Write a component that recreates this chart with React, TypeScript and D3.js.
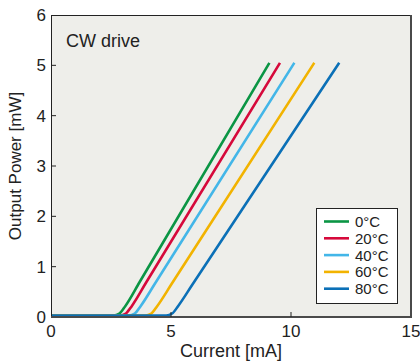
import React from "react";
import * as d3 from "d3";

const seriesLabels = ["0°C", "20°C", "40°C", "60°C", "80°C"];
const seriesColors = ["#0a9544", "#d6093b", "#43b6e8", "#f2b300", "#0b70b7"];
const s0: [number, number][] = [[0, 0.03], [2.6, 0.03], [2.85, 0.07], [3.1, 0.22], [3.7, 0.7], [9.1, 5.05]];
const s20: [number, number][] = [[0, 0.03], [2.87, 0.03], [3.12, 0.07], [3.37, 0.22], [3.97, 0.69], [9.54, 5.05]];
const s40: [number, number][] = [[0, 0.03], [3.24, 0.03], [3.49, 0.07], [3.74, 0.22], [4.34, 0.67], [10.14, 5.05]];
const s60: [number, number][] = [[0, 0.03], [3.93, 0.03], [4.18, 0.07], [4.43, 0.22], [5.03, 0.66], [10.97, 5.05]];
const s80: [number, number][] = [[0, 0.03], [4.8, 0.03], [5.05, 0.07], [5.3, 0.22], [5.9, 0.65], [12.01, 5.05]];
const seriesData = [s0, s20, s40, s60, s80];
const xTicks = [0, 5, 10, 15];
const yTicks = [0, 1, 2, 3, 4, 5, 6];

export default function App() {
  const W = 420, H = 362;
  const left = 51, right = 411, top = 15, bottom = 317;
  const x = d3.scaleLinear().domain([0, 15]).range([left, right]);
  const y = d3.scaleLinear().domain([0, 6]).range([bottom, top]);
  const line = d3.line<[number, number]>().x(d => x(d[0])).y(d => y(d[1])).curve(d3.curveMonotoneX);
  const font = "'Liberation Sans', Arial, sans-serif";
  const lg = { x: 316, y: 208, w: 81, h: 95, row0: 221.5, step: 16.8 };
  return (
    <svg width={W} height={H} style={{ position: "absolute", left: 0, top: 0 }} fontFamily={font}>
      <rect x={0} y={0} width={W} height={H} fill="#fff" />
      <rect x={left} y={top} width={right - left} height={bottom - top} fill="#eeeeea" />
      <defs>
        <clipPath id="pc">
          <rect x={left} y={top} width={right - left} height={bottom - top} />
        </clipPath>
      </defs>
      <g clipPath="url(#pc)">
        {seriesData.map((d, i) => (
          <path key={i} d={line(d) || ""} fill="none" stroke={seriesColors[i]} strokeWidth={2.6} />
        ))}
      </g>
      <line x1={left} y1={top + 0.5} x2={right} y2={top + 0.5} stroke="#222" strokeWidth={1} />
      <line x1={left + 0.5} y1={top} x2={left + 0.5} y2={bottom} stroke="#222" strokeWidth={1} />
      <line x1={right} y1={top} x2={right} y2={bottom + 1} stroke="#4a4a4a" strokeWidth={2} />
      <line x1={left} y1={bottom} x2={right + 1} y2={bottom} stroke="#4a4a4a" strokeWidth={2} />
      {yTicks.map(t => (
        <g key={"y" + t}>
          {t > 0 && t < 6 && <line x1={left} x2={left + 5} y1={y(t)} y2={y(t)} stroke="#222" strokeWidth={1} />}
          <text x={left - 5} y={y(t)} dy="0.36em" textAnchor="end" fontSize={17} fill="#222">{t}</text>
        </g>
      ))}
      {xTicks.map(t => (
        <g key={"x" + t}>
          {t > 0 && t < 15 && <line x1={x(t)} x2={x(t)} y1={bottom} y2={bottom - 5} stroke="#222" strokeWidth={1} />}
          <text x={x(t)} y={337} textAnchor="middle" fontSize={17} fill="#222">{t}</text>
        </g>
      ))}
      <text x={(left + right) / 2} y={357} textAnchor="middle" fontSize={18} fill="#222">Current [mA]</text>
      <text transform={`translate(21,${(top + bottom) / 2}) rotate(-90)`} textAnchor="middle" fontSize={17} fill="#222">Output Power [mW]</text>
      <text x={66} y={47} fontSize={18} fill="#222">CW drive</text>
      <rect x={lg.x + 0.5} y={lg.y + 0.5} width={lg.w} height={lg.h} fill="#fff" stroke="#222" strokeWidth={1} />
      {seriesLabels.map((s, i) => (
        <g key={s}>
          <line x1={324} x2={349} y1={lg.row0 + i * lg.step} y2={lg.row0 + i * lg.step} stroke={seriesColors[i]} strokeWidth={2.6} />
          <text x={355} y={lg.row0 + i * lg.step} dy="0.36em" fontSize={15} fill="#222">{s}</text>
        </g>
      ))}
    </svg>
  );
}
